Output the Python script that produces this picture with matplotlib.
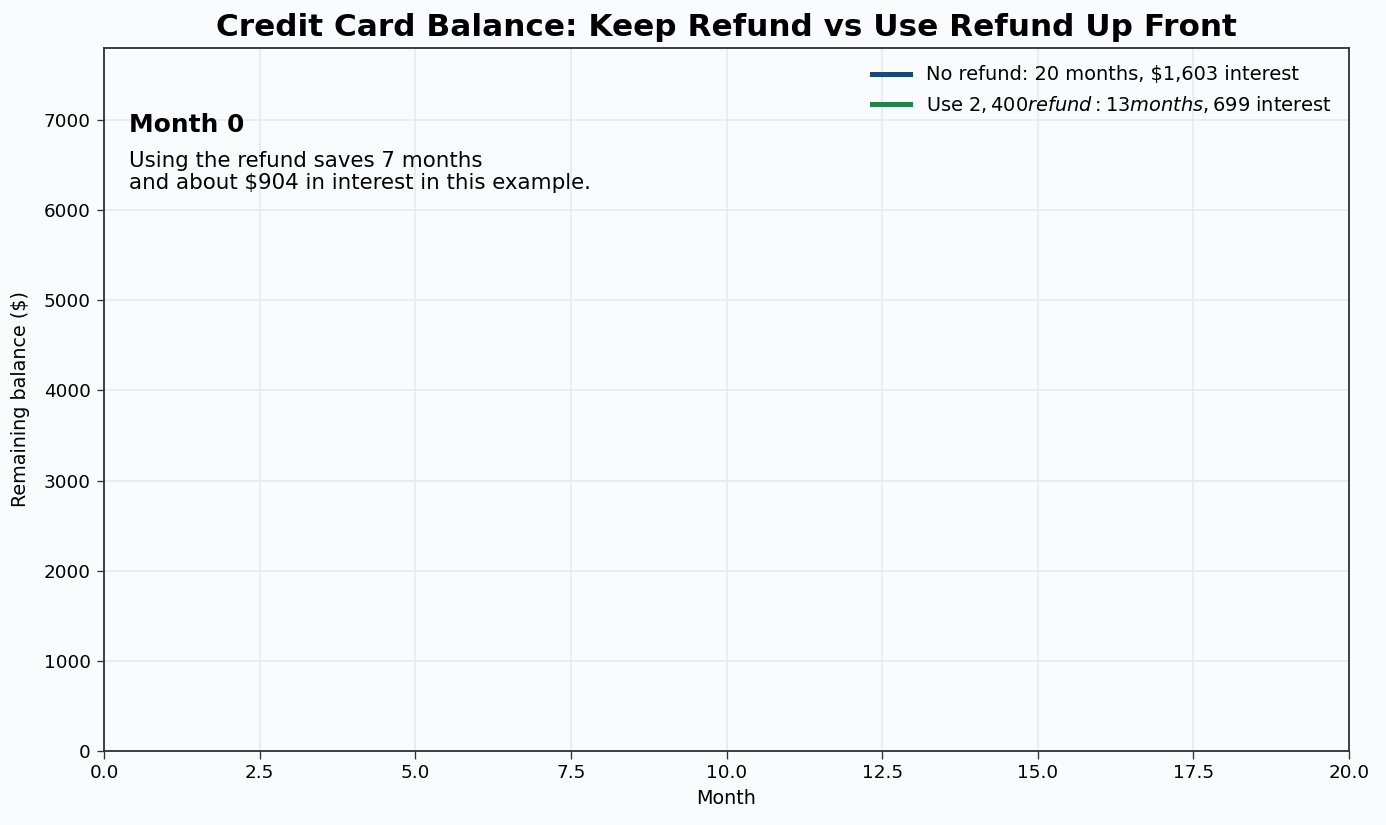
import matplotlib
matplotlib.use("Agg")
import matplotlib.pyplot as plt

# Data (frame at month 0: only the starting point is drawn)
months_no_refund = [0]
balance_no_refund = [6500]
months_refund = [0]
balance_refund = [4100]

label_no_refund = "No refund: 20 months, $1,603 interest"
label_refund = "Use $2,400 refund: 13 months, $699 interest"
title = "Credit Card Balance: Keep Refund vs Use Refund Up Front"
month_label = "Month 0"
note = "Using the refund saves 7 months\nand about $904 in interest in this example."

bg = "#f9fbfd"
fig = plt.figure(figsize=(11.55, 6.875), dpi=120, facecolor=bg)
ax = fig.add_axes([104/1386, 1 - 751/825, (1349-104)/1386, (751-48)/825])
ax.set_facecolor(bg)

ax.plot(months_no_refund, balance_no_refund, color="#174a7c", lw=3, label=label_no_refund)
ax.plot(months_refund, balance_refund, color="#1e8449", lw=3, label=label_refund)

ax.set_xlim(0, 20)
ax.set_ylim(0, 7800)
ax.grid(True, color="#e8eaec", lw=1)
ax.set_axisbelow(True)
for s in ax.spines.values():
    s.set_color("#333333")
    s.set_linewidth(1.1)
ax.tick_params(colors="#333333", labelsize=11.0, labelcolor="black", length=4.5)
ax.set_xlabel("Month", fontsize=11.5)
ax.set_ylabel("Remaining balance ($)", fontsize=11.5, labelpad=8)
ax.set_title(title, fontsize=18.7, fontweight="bold", pad=7)

ax.text(0.02, 0.89, month_label, transform=ax.transAxes, fontsize=14.9,
        fontweight="bold", va="center")
ax.text(0.02, 0.824, note, transform=ax.transAxes, fontsize=12.8,
        va="center", linespacing=1.1)

ax.legend(loc="upper right", frameon=False, fontsize=11.6)

fig.savefig("out.png", dpi=120, facecolor=bg)
